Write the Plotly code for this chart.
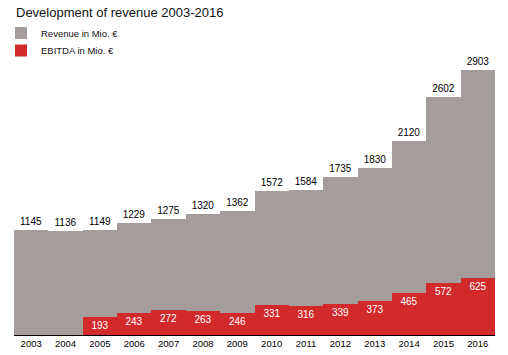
import plotly.graph_objects as go

years = ["2003", "2004", "2005", "2006", "2007", "2008", "2009", "2010",
         "2011", "2012", "2013", "2014", "2015", "2016"]
revenue = [1145, 1136, 1149, 1229, 1275, 1320, 1362, 1572, 1584, 1735, 1830, 2120, 2602, 2903]
ebitda = [None, None, 193, 243, 272, 263, 246, 331, 316, 339, 373, 465, 572, 625]

GRAY = "#a49d9c"
RED = "#d22a2a"
FONT = "Liberation Sans, Arial, sans-serif"

fig = go.Figure()
fig.add_trace(go.Bar(
    x=years, y=revenue, name="Revenue in Mio. €",
    marker=dict(color=GRAY, line=dict(width=0)),
    text=[str(v) for v in revenue], textposition="outside",
    textfont=dict(color="black", size=10, family=FONT),
    cliponaxis=False, legend="legend", showlegend=True,
))
fig.add_trace(go.Bar(
    x=years, y=ebitda, name="EBITDA in Mio. €",
    marker=dict(color=RED, line=dict(width=0)),
    text=[("" if v is None else str(v)) for v in ebitda], textposition="inside",
    insidetextanchor="end",
    textfont=dict(color="white", size=10, family=FONT),
    constraintext="none", legend="legend2", showlegend=True,
))

leg_common = dict(xanchor="left", yanchor="middle",
                  xref="container", yref="container",
                  bgcolor="rgba(0,0,0,0)", borderwidth=0,
                  font=dict(size=9.5, color="#111", family=FONT),
                  itemclick=False, visible=True)

fig.update_layout(
    width=508, height=355,
    showlegend=True,
    margin=dict(l=14, r=13, t=40, b=20, autoexpand=False),
    paper_bgcolor="white", plot_bgcolor="white",
    barmode="overlay", bargap=0,
    title=dict(text="Development of revenue 2003-2016", x=16 / 508, xanchor="left",
               xref="container", yref="container",
               y=1 - 12 / 355, yanchor="middle",
               font=dict(size=13, color="#111", family=FONT)),
    legend=dict(x=1 / 508, y=1 - 33 / 355, **leg_common),
    legend2=dict(x=1 / 508, y=1 - 50.5 / 355, **leg_common),
    font=dict(family=FONT),
)
fig.update_xaxes(
    type="category", range=[-0.5, 13.5],
    showline=True, linecolor="black", linewidth=1,
    ticks="", tickfont=dict(size=9.5, color="black", family=FONT),
    showgrid=False,
)
fig.update_yaxes(
    range=[0, 3230], visible=False, showgrid=False,
)

fig.write_html("out.html", config={"displayModeBar": False},
               post_script="document.body.style.margin='0';")
